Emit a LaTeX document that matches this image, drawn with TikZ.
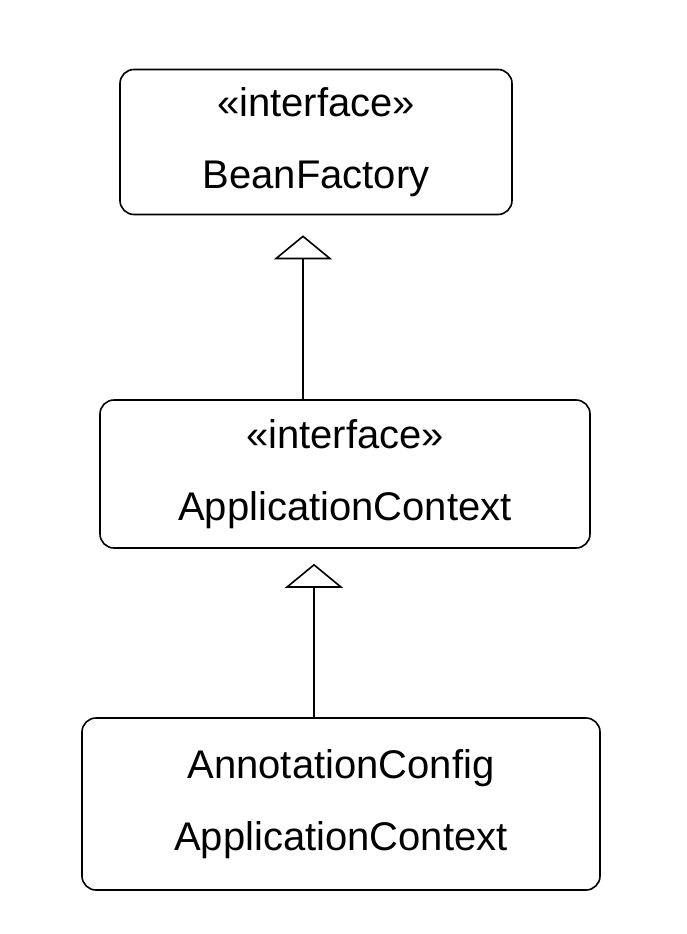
\documentclass[tikz,border=0pt]{standalone}
\usepackage{fontspec}
\setmainfont{Liberation Sans}
\usetikzlibrary{arrows.meta}
\begin{document}
\begin{tikzpicture}[x=1pt,y=-1pt,
  cls/.style={draw,line width=1.6pt,rounded corners=14pt,align=center,font=\fontsize{40}{72}\selectfont},
  inh/.style={line width=1.6pt,-{Triangle[open,length=24pt,width=58pt,line width=1.6pt]}}]
\useasboundingbox[fill=white] (0,0) rectangle (687,934);
\node[cls,minimum width=392pt,minimum height=145pt,inner sep=0pt] (bf) at (316,142) {\guillemotleft interface\guillemotright\\BeanFactory};
\node[cls,minimum width=490pt,minimum height=148pt,inner sep=0pt] (ac) at (345,474) {\guillemotleft interface\guillemotright\\ApplicationContext};
\node[cls,minimum width=518pt,minimum height=172pt,inner sep=0pt] (an) at (341,804) {AnnotationConfig\\ApplicationContext};
\draw[inh] (ac.north -| 303,0) -- ([yshift=-20pt]bf.south -| 303,0);
\draw[inh] (an.north -| 314,0) -- ([yshift=-15pt]ac.south -| 314,0);
\end{tikzpicture}
\end{document}
